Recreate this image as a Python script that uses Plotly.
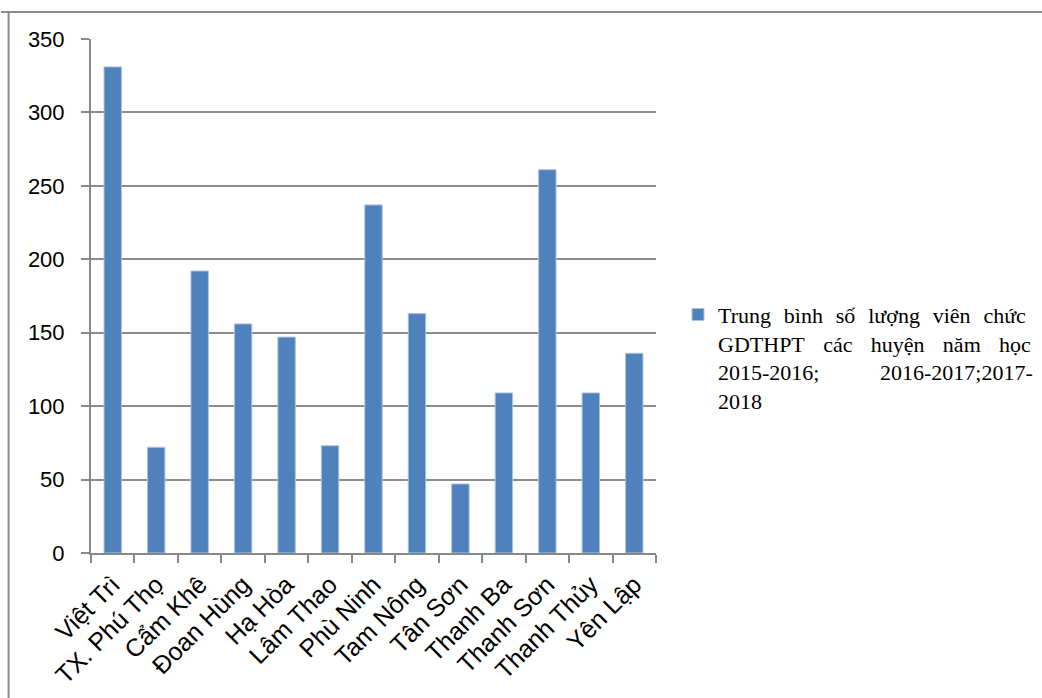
import plotly.graph_objects as go

categories = ["Việt Trì", "TX. Phú Thọ", "Cẩm Khê", "Đoan Hùng", "Hạ Hòa", "Lâm Thao",
              "Phù Ninh", "Tam Nông", "Tân Sơn", "Thanh Ba", "Thanh Sơn", "Thanh Thủy", "Yên Lập"]
values = [331, 72, 192, 156, 147, 73, 237, 163, 47, 109, 261, 109, 136]
y_ticks = [0, 50, 100, 150, 200, 250, 300, 350]

s1 = "\u2002\u200a"
s2 = "\u2002\u2005\u200a"
s3 = "\u00a0" * 11
series_name = (s1.join(["Trung", "bình", "số", "lượng", "viên", "chức"]) + "<br>"
               + s2.join(["GDTHPT", "các", "huyện", "năm", "học"]) + "<br>"
               + "2015-2016;" + s3 + "2016-2017;2017-<br>2018")

fig = go.Figure()
fig.add_trace(go.Bar(
    x=categories, y=values, name=series_name,
    marker=dict(color="#4F81BD", line=dict(color="#A9C1E0", width=1)),
    showlegend=True,
))

fig.update_layout(
    width=1042, height=698,
    margin=dict(l=91, r=386, t=39, b=145, autoexpand=False),
    paper_bgcolor="white", plot_bgcolor="white",
    bargap=0.6,
    font=dict(family="Liberation Sans, Arial", size=22, color="black"),
    legend=dict(
        xref="container", x=0.6507, xanchor="left",
        y=0.38, yanchor="middle",
        font=dict(family="Liberation Serif, Times New Roman", size=22, color="black"),
        valign="top", itemwidth=30,
    ),
    xaxis=dict(
        tickangle=-45, showline=True, linecolor="#888888", linewidth=2,
        ticks="outside", tickson="boundaries", ticklen=8, tickcolor="#888888", tickwidth=2,
        showgrid=False, tickfont=dict(size=25), ticklabelstandoff=5,
    ),
    yaxis=dict(
        range=[0, 350], tickvals=y_ticks, showline=True, linecolor="#888888", linewidth=2,
        ticks="outside", ticklen=8, tickcolor="#888888", tickwidth=2,
        showgrid=True, gridcolor="#8c8c8c", gridwidth=2, zeroline=False,
        tickfont=dict(size=22), ticklabelstandoff=12,
    ),
    shapes=[
        dict(type="line", xref="paper", yref="paper", x0=-0.1594, x1=1.8, y0=1.0525, y1=1.0525,
             line=dict(color="#8c8c8c", width=2)),
        dict(type="line", xref="paper", yref="paper", x0=-0.1459, x1=-0.1459, y0=-0.5, y1=1.0525,
             line=dict(color="#8c8c8c", width=2)),
    ],
)

fig.write_html("out.html")
